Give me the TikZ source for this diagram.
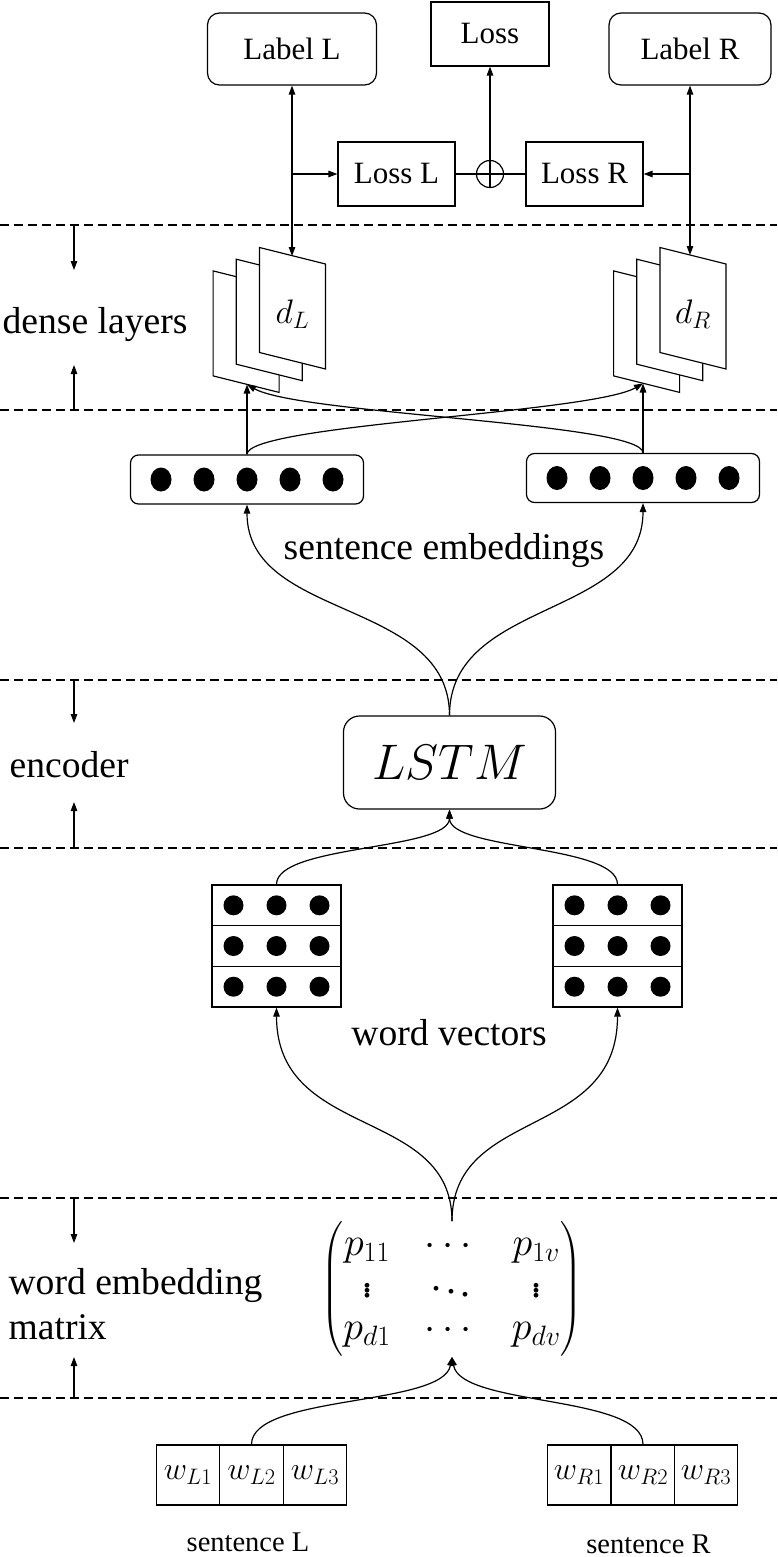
\RequirePackage{fix-cm}
\documentclass[tikz,border=0pt]{standalone}
\usepackage{amsmath}
\usepackage{fontspec}
\setmainfont{Liberation Serif}
\usetikzlibrary{arrows.meta,positioning,calc}

\begin{document}
\begin{tikzpicture}[x=1pt,y=-1pt,line width=1.2pt,
  >={Triangle[length=9pt,width=6.5pt]},
  box/.style={draw,minimum width=117pt,minimum height=64pt,font=\fontsize{31}{36}\selectfont},
  rbox/.style={box,rounded corners=12pt},
  layer/.style={font=\fontsize{37.6}{45}\selectfont,inner sep=0pt,anchor=west,align=left},
  big/.style={font=\fontsize{37.6}{45}\selectfont,inner sep=0pt},
  sep/.style={dash pattern=on 9pt off 5pt},
  sheet/.style={draw,fill=white},
  cell/.style={draw,minimum width=63.5pt,minimum height=60pt,inner sep=0pt,font=\fontsize{32}{34}\selectfont},
  note/.style={font=\fontsize{28.5}{32}\selectfont,inner sep=0pt}]
\useasboundingbox (0,0) rectangle (777,1557);

% losses and labels
\node[rbox,minimum width=169pt,minimum height=72pt] (labelL) at (292,49) {Label L};
\node[box,minimum width=118pt] (loss) at (490,34) {Loss};
\node[rbox,minimum width=162pt,minimum height=72pt] (labelR) at (690,49) {Label R};
\node[box] (lossL) at (396.5,174) {Loss L};
\node[box] (lossR) at (584.5,174) {Loss R};
\node[draw,circle,minimum size=27pt,inner sep=0pt] (plus) at (490,174) {};
\draw (plus.north) -- (plus.south) (plus.west) -- (plus.east);

% layer borders
\foreach \y in {225,410,680,848,1198,1398}
  \draw[sep] (0,\y) -- (777,\y);
\foreach \a/\b in {225/270,410/365,680/723,848/802,1198/1243,1398/1357}
  \draw[->] (74,\a) -- (74,\b);
\node[layer] (denseLbl) at (2,325) {dense layers};
\node[layer] (encLbl) at (9,765) {encoder};
\node[layer] (wemLbl) at (8,1304) {word embedding\\matrix};

% dense layers
\foreach \cx/\s in {259.5/L,660/R}{
  \foreach \k in {2,1,0}
    \draw[sheet] (\cx-23.2*\k,247.5+11.7*\k) -- ++(66,16.5) -- ++(0,105) -- ++(-66,-16.5) -- cycle;
  \node[font=\fontsize{34}{36}\selectfont] (d\s) at (\cx+33,314) {$d_\s$};
}
\coordinate (dLtop) at (labelL.south |- 0,256);
\coordinate (dRtop) at (labelR.south |- 0,255);
\draw[<->] (labelL.south) -- (dLtop);
\draw[<->] (labelR.south) -- (dRtop);
\draw[->] (labelL.south |- lossL.west) -- (lossL.west);
\draw[->] (labelR.south |- lossR.east) -- (lossR.east);
\draw (lossL.east) -- (plus.west) (plus.east) -- (lossR.west);
\draw[->] (plus.north) -- (loss.south);

% sentence embeddings
\node[draw,rounded corners=8pt,minimum width=233pt,minimum height=49pt] (embL) at (247,479.5) {};
\node[draw,rounded corners=8pt,minimum width=233pt,minimum height=49pt] (embR) at (643,478) {};
\foreach \e in {embL,embR}
  \foreach \i in {-2,...,2}
    \fill ($(\e)+(43*\i,0)$) ellipse [x radius=10.5pt,y radius=12pt];
\coordinate (dLbot) at (embL.north |- 0,384.5);
\coordinate (dRbot) at (embR.north |- 0,383.5);
\draw[->] (embL.north) -- (dLbot);
\draw[->] (embR.north) -- (dRbot);
\draw[->] (embL.north) .. controls +(0,-30) and +(-53,30) .. (dRbot);
\draw[->] (embR.north) .. controls +(0,-30) and +(53,30) .. (dLbot);
\node[big] (sentLbl) at (444,551) {sentence embeddings};

% encoder
\node[draw,rounded corners=16pt,minimum width=212pt,minimum height=93pt,font=\fontsize{50}{52}\selectfont] (lstm) at (449.5,762.5) {$LSTM$};
\draw[->] (lstm.north) .. controls +(0,-117) and +(0,116) .. (embL.south);
\draw[->] (lstm.north) .. controls +(0,-117) and +(0,116) .. (embR.south);

% word vectors
\node[draw,minimum width=129pt,minimum height=122pt] (wvL) at (276.5,946) {};
\node[draw,minimum width=129pt,minimum height=122pt] (wvR) at (617.5,946) {};
\foreach \v in {wvL,wvR}{
  \draw ($(\v.west)+(0,-20.3)$) -- ($(\v.east)+(0,-20.3)$);
  \draw ($(\v.west)+(0,20.3)$) -- ($(\v.east)+(0,20.3)$);
  \foreach \i in {-1,0,1}
    \foreach \j in {-1,0,1}
      \fill ($(\v)+(43*\i,40.7*\j)$) circle (10pt);
}
\draw[->] (wvL.north) .. controls +(0,-40) and +(0,41) .. (lstm.south);
\draw[->] (wvR.north) .. controls +(0,-40) and +(0,41) .. (lstm.south);
\node[big] (wvLbl) at (449,1033) {word vectors};

% word embedding matrix
\node[font=\fontsize{40}{42}\selectfont,inner sep=0pt] (pmat) at (452,1289)
  {\setlength{\arraycolsep}{17pt}$\begin{pmatrix} p_{11} & \cdots & p_{1v}\\ \vdots & \ddots & \vdots\\ p_{d1} & \cdots & p_{dv}\end{pmatrix}$};
\draw[->] (pmat.north) .. controls +(0,-115) and +(0,133) .. (wvL.south);
\draw[->] (pmat.north) .. controls +(0,-115) and +(0,133) .. (wvR.south);

% sentences
\foreach \i/\x in {1/188,2/251.5,3/315}
  \node[cell] (wL\i) at (\x,1475) {$w_{L\i}$};
\foreach \i/\x in {1/579,2/643,3/706}
  \node[cell] (wR\i) at (\x,1475) {$w_{R\i}$};
\draw[->] (wL2.north) .. controls +(0,-50) and +(-9,50) .. (pmat.south);
\draw[->] (wR2.north) .. controls +(0,-50) and +(9,50) .. (pmat.south);
\node[note] (sentL) at (248,1542) {sentence L};
\node[note] (sentR) at (648.5,1544.5) {sentence R};
\end{tikzpicture}
\end{document}
